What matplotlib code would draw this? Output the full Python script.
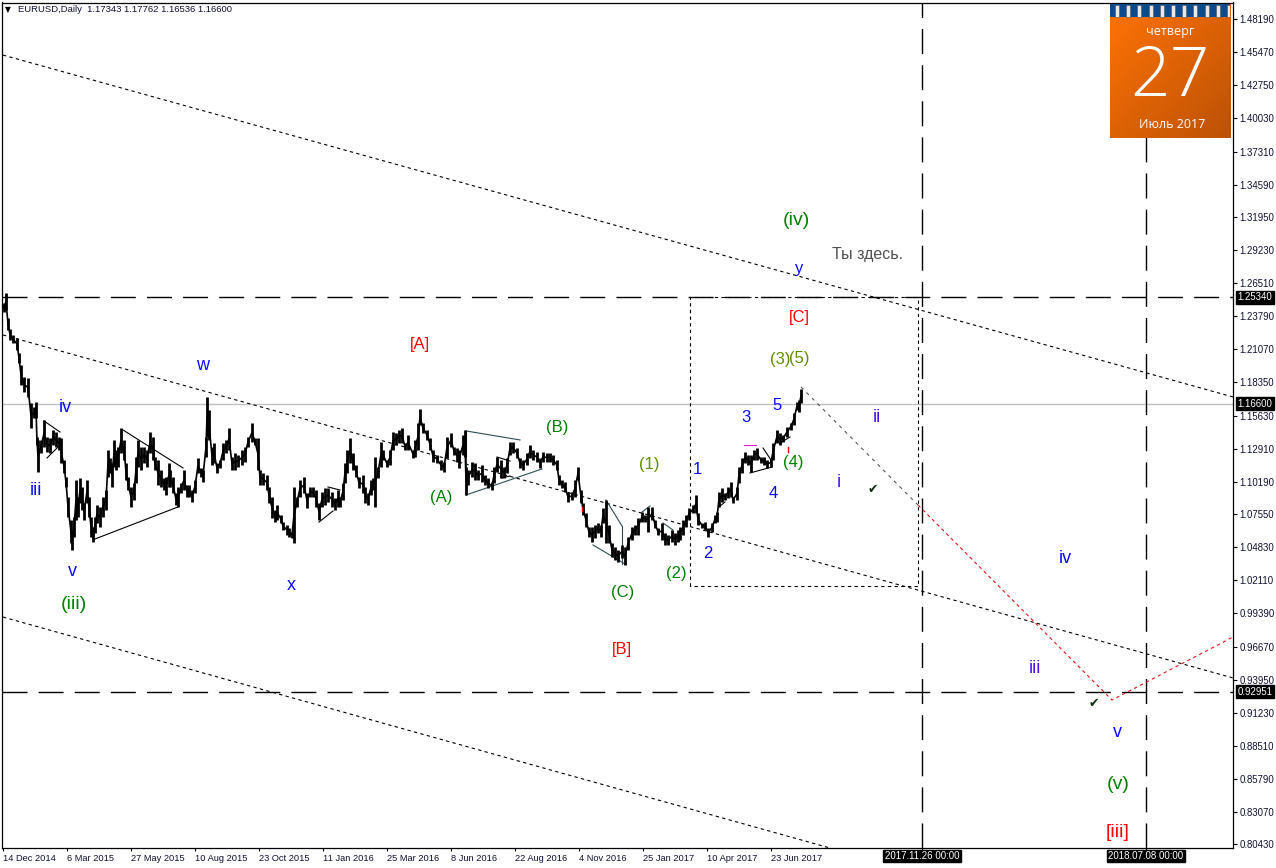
import numpy as np
import matplotlib
matplotlib.use("Agg")
import matplotlib.pyplot as plt
from matplotlib.patches import Rectangle

W, H = 1276, 868
plt.rcParams['font.family'] = ['Liberation Sans', 'DejaVu Sans']

# ---------- price samples (bar number, high, low) ----------
bars_a = [1,3,5,7,10,14,16,18,21,25,28,31,33,34,35,38,41,44,47,50,53,56,58,61,63,65,68,69,71,73,75,77,79,81,84,86,88,90,92,94,97,100,103,105,107,109,111,113,115,118,121,123,125,128,131,133,135,138,141,144,147,150,152,155,158,161,163,166]
high_a = [1.2487,1.2569,1.2364,1.2274,1.2225,1.2200,1.2077,1.1978,1.1880,1.1872,1.1666,1.1634,1.1675,1.1387,1.1363,1.1363,1.1527,1.1387,1.1379,1.1445,1.1428,1.1387,1.1379,1.1199,1.1059,1.0895,1.0706,1.0624,1.0730,1.1034,1.0895,1.1051,1.0977,1.0845,1.1034,1.0895,1.0730,1.0648,1.0730,1.0829,1.0813,1.0895,1.0952,1.1281,1.1215,1.1174,1.1363,1.1281,1.1305,1.1461,1.1363,1.1174,1.1059,1.0977,1.1010,1.1223,1.1363,1.1305,1.1305,1.1281,1.1428,1.1387,1.1223,1.1199,1.1116,1.1051,1.1059,1.1174]
low_a = [1.2413,1.2430,1.2266,1.2184,1.2159,1.2102,1.1995,1.1814,1.1757,1.1716,1.1461,1.1543,1.1543,1.1322,1.1100,1.1256,1.1305,1.1264,1.1256,1.1322,1.1305,1.1281,1.1174,1.1092,1.0977,1.0730,1.0517,1.0460,1.0566,1.0706,1.0730,1.0845,1.0788,1.0706,1.0845,1.0730,1.0566,1.0525,1.0599,1.0681,1.0648,1.0730,1.0788,1.1059,1.1092,1.0977,1.1141,1.1116,1.1141,1.1256,1.1199,1.1034,1.0952,1.0813,1.0870,1.1010,1.1141,1.1116,1.1174,1.1141,1.1256,1.1199,1.1116,1.0993,1.0977,1.0952,1.0911,1.0977]

bars_b = [167,170,173,175,178,181,184,186,189,192,195,198,200,203,204,206,209,211,214,217,220,223,226,229,232,235,239,242,245,249,252,255,257,260,264,266,269,272,274,278,280,284,286,289,291,294,297,301,304,307,310,313,316,319,322,325,329,332,335]
high_b = [1.1116,1.1059,1.0927,1.0977,1.1010,1.1116,1.0993,1.0993,1.0952,1.1034,1.1215,1.1133,1.1116,1.1387,1.1716,1.1609,1.1305,1.1338,1.1174,1.1199,1.1338,1.1363,1.1461,1.1223,1.1256,1.1240,1.1281,1.1305,1.1387,1.1502,1.1379,1.1379,1.1116,1.1092,1.1075,1.0977,1.0895,1.0788,1.0829,1.0747,1.0689,1.0665,1.0640,1.0607,1.0977,1.0895,1.1034,1.1059,1.0927,1.0977,1.0977,1.0952,1.0845,1.0936,1.0968,1.0968,1.0936,1.0886,1.0952]
low_b = [1.0977,1.0927,1.0829,1.0813,1.0927,1.0952,1.0895,1.0895,1.0854,1.0927,1.1092,1.1059,1.1018,1.1223,1.1387,1.1363,1.1157,1.1174,1.1092,1.1133,1.1199,1.1256,1.1281,1.1116,1.1116,1.1141,1.1157,1.1182,1.1305,1.1346,1.1322,1.1116,1.0993,1.0993,1.0952,1.0845,1.0722,1.0689,1.0706,1.0681,1.0624,1.0583,1.0566,1.0558,1.0517,1.0813,1.0895,1.0927,1.0804,1.0895,1.0895,1.0813,1.0706,1.0813,1.0829,1.0854,1.0813,1.0788,1.0813]

bars_c = [337,340,342,344,347,350,353,356,360,362,365,368,370,372,375,378,380,384,387,390,393,396,399,402,405,410,412,415,417,420,424,427,430,434,438,441,444,448,451,454,456,460,462,463,465,469,472,475,479,482,485,489,491,494,498,501,504]
high_c = [1.0895,1.1010,1.1174,1.1281,1.1379,1.1256,1.1157,1.1059,1.1075,1.0977,1.0927,1.1034,1.1051,1.1223,1.1141,1.1346,1.1281,1.1199,1.1281,1.1428,1.1420,1.1445,1.1461,1.1338,1.1404,1.1281,1.1363,1.1502,1.1617,1.1502,1.1445,1.1379,1.1281,1.1240,1.1199,1.1182,1.1387,1.1420,1.1305,1.1297,1.1281,1.1404,1.1445,1.1141,1.1116,1.1182,1.1174,1.1116,1.1157,1.1075,1.1051,1.1018,1.1141,1.1223,1.1199,1.1141,1.1215]
low_c = [1.0813,1.0870,1.1010,1.1092,1.1174,1.1116,1.1059,1.0968,1.0927,1.0845,1.0829,1.0911,1.0952,1.0813,1.1051,1.1141,1.1199,1.1141,1.1157,1.1281,1.1322,1.1338,1.1338,1.1281,1.1281,1.1215,1.1223,1.1281,1.1486,1.1420,1.1363,1.1281,1.1182,1.1174,1.1116,1.1100,1.1215,1.1305,1.1240,1.1182,1.1133,1.1240,1.1223,1.0911,1.0993,1.1059,1.1034,1.1034,1.1018,1.0993,1.0968,1.0952,1.1010,1.1100,1.1051,1.1051,1.1092]

bars_d = [507,510,514,517,520,524,527,530,534,537,540,544,547,550,554,556,559,562,565,569,572,575,578,580,583,586,589,592,595,598,600,603,606,609,612,615,619,622,625,629,632,635,639,642,645,649,652,655,659,662,665,669,672,675]
high_d = [1.1346,1.1346,1.1297,1.1215,1.1199,1.1256,1.1322,1.1281,1.1264,1.1215,1.1264,1.1256,1.1256,1.1240,1.1199,1.1075,1.1034,1.1018,1.0936,1.0936,1.1034,1.1141,1.0952,1.0845,1.0763,1.0648,1.0648,1.0665,1.0681,1.0665,1.0804,1.0870,1.0665,1.0517,1.0484,1.0460,1.0501,1.0484,1.0566,1.0648,1.0665,1.0722,1.0771,1.0747,1.0813,1.0813,1.0706,1.0640,1.0681,1.0599,1.0583,1.0624,1.0599,1.0624]
low_d = [1.1240,1.1256,1.1215,1.1133,1.1116,1.1157,1.1215,1.1199,1.1182,1.1133,1.1182,1.1182,1.1182,1.1157,1.1116,1.0993,1.0968,1.0936,1.0854,1.0870,1.0895,1.1034,1.0845,1.0747,1.0648,1.0566,1.0525,1.0558,1.0599,1.0566,1.0681,1.0517,1.0517,1.0402,1.0377,1.0361,1.0394,1.0336,1.0460,1.0542,1.0583,1.0583,1.0689,1.0689,1.0607,1.0706,1.0640,1.0583,1.0542,1.0501,1.0501,1.0525,1.0501,1.0525]

bars_e = [677,680,683,686,690,693,695,699,702,705,709,712,714,716,719,722,725,728,730,734,736,739,742,745,748,751,754,758,761,764,768,770,774,777,780,784,788,791,794,796,798]
high_e = [1.0648,1.0706,1.0747,1.0804,1.0829,1.0911,1.0763,1.0681,1.0689,1.0640,1.0681,1.0747,1.0771,1.0936,1.0968,1.0927,1.0977,1.1018,1.0895,1.0977,1.1141,1.1215,1.1264,1.1240,1.1240,1.1281,1.1297,1.1223,1.1223,1.1199,1.1215,1.1338,1.1445,1.1420,1.1404,1.1469,1.1502,1.1584,1.1675,1.1691,1.1781]
low_e = [1.0542,1.0583,1.0648,1.0706,1.0763,1.0763,1.0665,1.0640,1.0624,1.0566,1.0607,1.0681,1.0689,1.0813,1.0854,1.0870,1.0886,1.0895,1.0845,1.0870,1.1010,1.1092,1.1174,1.1157,1.1100,1.1199,1.1199,1.1174,1.1157,1.1133,1.1141,1.1199,1.1338,1.1322,1.1346,1.1387,1.1445,1.1486,1.1609,1.1592,1.1666]

# ---------- levels and trend lines (bar, price) ----------
level_high, level_close, level_low = 1.25340, 1.16600, 0.92951
time_bars = [919, 1143]
time_labels = ["2017.11.26 00:00", "2018.07.08 00:00"]
channel_top = ([0, 1230], [1.4523, 1.1716])
channel_mid = ([0, 1230], [1.2225, 0.9409])
channel_low = ([0, 827], [0.9909, 0.8013])
box_bars = [687, 915]
box_prices = [1.2534, 1.0164]
path_gray = ([798, 915], [1.1798, 1.0829])
path_red = ([915, 1109, 1230], [1.0829, 0.9228, 0.9745])
black_lines = [([41,57],[1.1519,1.1428]), ([44,55],[1.1215,1.1305]),
               ([120,180],[1.1445,1.1133]), ([92,175],[1.0550,1.0813]),
               ([325,337],[1.0977,1.0952]), ([316,330],[1.0689,1.0780]),
               ([494,507],[1.1223,1.1190]), ([499,507],[1.1051,1.1067]),
               ([716,722],[1.0813,1.0854]), ([777,787],[1.1338,1.1387]),
               ([747,769],[1.1092,1.1141]), ([760,768],[1.1297,1.1199])]
slate_lines = [([463,517],[1.1437,1.1363]), ([463,463],[1.1437,1.0911]),
               ([463,539],[1.0911,1.1125]), ([603,619],[1.0870,1.0657]),
               ([619,619],[1.0657,1.0345]), ([590,622],[1.0501,1.0345]),
               ([639,647],[1.0771,1.0821]), ([660,670],[1.0681,1.0624])]
pink_line = ([741, 753], [1.1322, 1.1322])
red_marks = [([579,579],[1.0813,1.0780]), ([785,785],[1.1305,1.1264])]

price_ticks = [1.4819,1.4547,1.4275,1.4003,1.3731,1.3459,1.3195,1.2923,1.2651,1.2379,1.2107,1.1835,1.1563,
               1.1291,1.1019,1.0755,1.0483,1.0211,0.9939,0.9667,0.9395,0.9123,0.8851,0.8579,0.8307,0.8043]
date_ticks = [0,64,128,192,256,320,384,448,512,576,640,704,768]
date_labels = ["14 Dec 2014","6 Mar 2015","27 May 2015","10 Aug 2015","23 Oct 2015","11 Jan 2016",
               "25 Mar 2016","8 Jun 2016","22 Aug 2016","4 Nov 2016","25 Jan 2017","10 Apr 2017","23 Jun 2017"]

BLUE, GREEN, OLIVE, RED, VIOLET = '#0a0aff', '#008000', '#5f8f00', '#ff0000', '#4a10e0'
wave_labels = [
    ("(iv)",796,219,GREEN,14), ("y",799,267,BLUE,12), ("[C]",799,316,RED,12), ("(3)",780,358,OLIVE,12),
    ("(5)",799,357,OLIVE,12), ("(1)",649,463,OLIVE,12), ("(4)",793,461,GREEN,12), ("(B)",557,426,GREEN,12),
    ("(A)",441,496,GREEN,12), ("(C)",623,591,GREEN,12), ("(2)",676,572,GREEN,12), ("[A]",420,343,RED,12),
    ("[B]",622,648,RED,12), ("w",203,364,BLUE,13), ("iv",65,406,BLUE,13), ("iii",36,489,BLUE,13),
    ("v",72,570,BLUE,13), ("(iii)",74,603,GREEN,14), ("x",291,584,BLUE,13), ("1",697,468,BLUE,12),
    ("2",708,552,BLUE,12), ("3",746,416,BLUE,12), ("4",773,492,BLUE,12), ("5",777,404,BLUE,12),
    ("i",839,481,VIOLET,13), ("ii",877,416,VIOLET,13), ("iii",1035,667,VIOLET,13), ("iv",1065,557,BLUE,13),
    ("v",1117,731,BLUE,13), ("(v)",1118,783,GREEN,14), ("[iii]",1118,831,RED,14),
]

# ---------- figure ----------
fig = plt.figure(figsize=(W/100, H/100), dpi=100, facecolor='white')
L, R, T, B = 2.5, 1233.0, 2.5, 848.0
ax = fig.add_axes([L/W, 1-B/H, (R-L)/W, (B-T)/H])
ax.set_xlim(-0.5, 1230)
ax.set_ylim(0.8013, 1.49545)

def fx(x): return x/W
def fy(y): return 1-y/H

ax.axhline(level_close, color='#c0c0c0', lw=1.0, zorder=1)
for lv in (level_high, level_low):
    ax.axhline(lv, color='black', lw=1.0, ls=(0,(18,8)), zorder=2)
for tb in time_bars:
    ax.axvline(tb, color='black', lw=1.0, ls=(0,(18,8)), zorder=2)

dot = dict(color='black', lw=0.8, ls=(0,(3,3)), zorder=2)
for ln in (channel_top, channel_mid, channel_low):
    ax.plot(ln[0], ln[1], **dot)
ax.plot([box_bars[0], box_bars[0], box_bars[1], box_bars[1], box_bars[0]],
        [box_prices[1], box_prices[0], box_prices[0], box_prices[1], box_prices[1]], **dot)
ax.plot(path_gray[0], path_gray[1], color='#555555', lw=0.8, ls=(0,(3,4)), zorder=2)
ax.plot(path_red[0], path_red[1], color='#e8141c', lw=0.8, ls=(0,(3,3)), zorder=2)

for ln in black_lines:
    ax.plot(ln[0], ln[1], color='black', lw=0.8, zorder=3)
for ln in slate_lines:
    ax.plot(ln[0], ln[1], color='#2f4f4f', lw=0.8, zorder=3)
ax.plot(pink_line[0], pink_line[1], color='#e020d0', lw=0.8, zorder=5)
for ln in red_marks:
    ax.plot(ln[0], ln[1], color='red', lw=1.0, zorder=5)

bars = np.array(bars_a+bars_b+bars_c+bars_d+bars_e)
highs = np.array(high_a+high_b+high_c+high_d+high_e)
lows = np.array(low_a+low_b+low_c+low_d+low_e)
ax.vlines(bars, lows, highs, color='black', lw=2.0, zorder=4)
ax.plot(bars, (highs+lows)/2, color='black', lw=1.2, zorder=4)

# axes frame and ticks
for s in ax.spines.values():
    s.set_linewidth(0.9)
ax.yaxis.tick_right()
ax.set_yticks(price_ticks)
ax.set_yticklabels([f"{p:.5f}" for p in price_ticks], fontsize=6.9, color='#101030')
ax.tick_params(axis='y', length=3, width=0.8, pad=1.5)
ax.set_xticks(date_ticks + time_bars)
ax.set_xticklabels(date_labels + ["", ""], fontsize=6.7, ha='left', color='#101030')
ax.tick_params(axis='x', length=2.5, width=0.8, pad=1.5)

# black value tags
for v in (level_high, level_close, level_low):
    ypx = B - (v-0.8013)/(1.49545-0.8013)*(B-T)
    fig.text(fx(1255), fy(ypx), f"{v:.5f}", color='white', fontsize=6.9, ha='center', va='center',
             bbox=dict(fc='black', ec='black', pad=1.2), zorder=10)
for tb, lab in zip(time_bars, time_labels):
    fig.text(fx(tb+3), fy(856), lab, color='white', fontsize=7.0, ha='center', va='center',
             bbox=dict(fc='black', ec='black', pad=1.0), zorder=10)

# header
fig.text(fx(8), fy(10), "\u25BC", fontsize=5.5, ha='center', va='center', color='black',
         family=['DejaVu Sans'])
fig.text(fx(18), fy(10), "EURUSD,Daily  1.17343 1.17762 1.16536 1.16600", fontsize=6.8, ha='left',
         va='center', color='#101030')

# wave labels
for txt, x, y, c, fs in wave_labels:
    fig.text(fx(x), fy(y+1.5), txt, color=c, fontsize=fs, ha='center', va='center', zorder=6)
fig.text(fx(868), fy(255), "\u0422\u044b \u0437\u0434\u0435\u0441\u044c.", color='#505050', fontsize=11.5,
         ha='center', va='center', zorder=6)
for x, y in ((873, 489), (1094, 703)):
    fig.text(fx(x), fy(y), "\u2714", color='#103010', fontsize=9, ha='center', va='center',
             family=['DejaVu Sans'], zorder=6)

# calendar widget
cx0, cx1, cy0, cy1 = 1110, 1230, 4, 138
cal = fig.add_axes([cx0/W, 1-cy1/H, (cx1-cx0)/W, (cy1-cy0)/H], zorder=8)
cal.set_xlim(cx0, cx1); cal.set_ylim(cy1, cy0); cal.axis('off')
gy, gx = np.mgrid[0:1:60j, 0:1:60j]
t = (gx+gy)/2
c0, c1 = np.array([1.0, 0.45, 0.02]), np.array([0.74, 0.32, 0.02])
cal.imshow(c0 + (c1-c0)*t[..., None], extent=(cx0, cx1, cy1, cy0), aspect='auto', zorder=1)
cal.add_patch(Rectangle((cx0, cy0), cx1-cx0, 13, fc='#0c4a8c', ec='none', zorder=2))
for rx in np.arange(cx0+5, cx1-2, 11.2):
    cal.add_patch(Rectangle((rx, cy0+1), 4, 12, fc='#e8e8e8', ec='#505050', lw=0.4, zorder=3))
cal.set_xlim(cx0, cx1); cal.set_ylim(cy1, cy0)
fig.text(fx(1170), fy(32), "\u0447\u0435\u0442\u0432\u0435\u0440\u0433", color='white', fontsize=9,
         ha='center', va='center', family=['Open Sans'], zorder=12)
fig.text(fx(1170), fy(78), "27", color='white', fontsize=50, ha='center', va='center',
         family=['Open Sans'], fontweight='light', zorder=12)
fig.text(fx(1172), fy(125), "\u0418\u044e\u043b\u044c 2017", color='white', fontsize=9,
         ha='center', va='center', family=['Open Sans'], zorder=12)

fig.savefig("out.png", dpi=100, facecolor='white')
